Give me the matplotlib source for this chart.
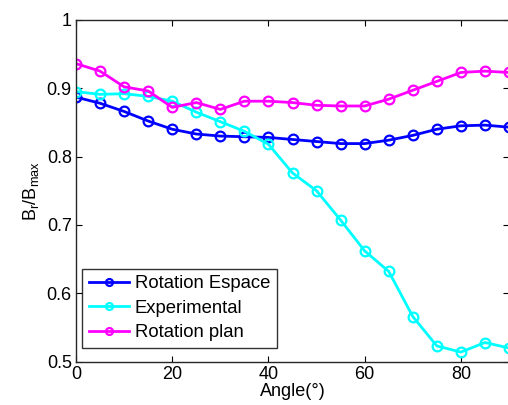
import matplotlib
matplotlib.use("Agg")
import matplotlib.pyplot as plt

plt.rcParams['font.family'] = ['Liberation Sans', 'DejaVu Sans']

angle = [0, 5, 10, 15, 20, 25, 30, 35, 40, 45, 50, 55, 60, 65, 70, 75, 80, 85, 90]
rot_espace = [0.887, 0.878, 0.866, 0.852, 0.840, 0.833, 0.830, 0.829, 0.828, 0.825, 0.822,
              0.819, 0.819, 0.824, 0.831, 0.840, 0.845, 0.846, 0.843]
experimental = [0.895, 0.891, 0.892, 0.888, 0.881, 0.865, 0.851, 0.837, 0.818, 0.776, 0.750,
                0.707, 0.662, 0.632, 0.566, 0.523, 0.514, 0.528, 0.520]
rot_plan = [0.936, 0.925, 0.902, 0.896, 0.872, 0.879, 0.869, 0.881, 0.881, 0.879, 0.875,
            0.874, 0.874, 0.884, 0.897, 0.910, 0.923, 0.925, 0.923]

labels = ['Rotation Espace', 'Experimental', 'Rotation plan']
colors = ['#0000ff', '#00ffff', '#ff00ff']

fig = plt.figure(figsize=(5.08, 4.05), dpi=100)
ax = fig.add_axes([0.1496, 0.107, 0.8524, 0.844])

for ys, lab, c in zip([rot_espace, experimental, rot_plan], labels, colors):
    ax.plot(angle, ys, '-o', color=c, lw=2, ms=7, mfc='none', mew=1.6, label=lab)

ax.set_xlim(0, 90)
ax.set_ylim(0.5, 1)
ax.set_xticks([0, 20, 40, 60, 80])
ax.set_yticks([0.5, 0.6, 0.7, 0.8, 0.9, 1])
ax.set_yticklabels(['0.5', '0.6', '0.7', '0.8', '0.9', '1'])
ax.tick_params(direction='in', length=4, width=0.8, labelsize=13, top=True, right=True,
               pad=3)
for s in ax.spines.values():
    s.set_linewidth(1.0)
    s.set_color('#262626')

ax.set_xlabel('Angle(°)', fontsize=13, labelpad=0)
ax.set_ylabel(r'B$_\mathregular{r}$/B$_\mathregular{max}$', fontsize=13, labelpad=4)

leg = ax.legend(loc='lower left', bbox_to_anchor=(0.014, 0.041), fontsize=13.3, frameon=True,
                fancybox=False, edgecolor='k', handlelength=2.2, borderpad=0.35,
                labelspacing=0.4, handletextpad=0.3, borderaxespad=0)
leg.get_frame().set_linewidth(1.0)
for h in leg.legend_handles:
    h.set_markersize(5)

fig.savefig('out.png', dpi=100)
